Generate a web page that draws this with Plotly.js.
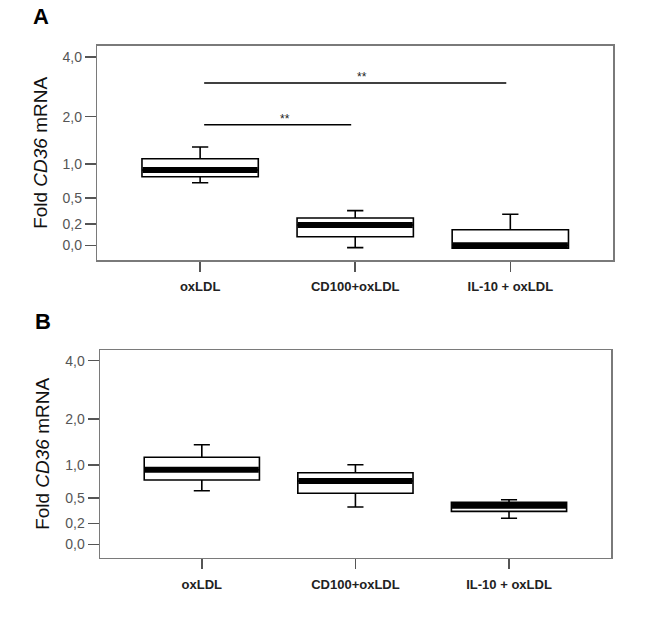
<!DOCTYPE html>
<html>
<head>
<meta charset="utf-8">
<script src="https://cdn.plot.ly/plotly-3.0.1.min.js"></script>
<style>html,body{margin:0;padding:0;background:#fff;}#chart{width:653px;height:632px;}</style>
</head>
<body>
<div id="chart"></div>
<script>
// ---- data ----
const categories = ['oxLDL', 'CD100+oxLDL', 'IL-10 + oxLDL'];
const tickValues = [0, 0.2, 0.5, 1, 2, 4];
const tickLabels = ['0,0', '0,2', '0,5', '1,0', '2,0', '4,0'];

// Panel A
const lowA  = [0.706, -0.020, -0.025];
const q1A   = [0.796,  0.076, -0.025];
const medA  = [0.901,  0.189,  0.000];
const q3A   = [1.094,  0.262,  0.142];
const highA = [1.314,  0.344,  0.303];
const sigPairsA = [[0, 1], [0, 2]];
const sigLevelsA = [1.8, 3.0];
const sigTextA = ['**', '**'];

// Panel B
const lowB  = [0.600, 0.387, 0.256];
const q1B   = [0.757, 0.564, 0.335];
const medB  = [0.923, 0.741, 0.403];
const q3B   = [1.143, 0.873, 0.445];
const highB = [1.393, 1.009, 0.478];

// ---- helpers ----
const f = v => Math.log2(v + 1);   // axis transform (fold scale)
const xs = categories.map((c, i) => i);
const BOXW = 0.75;

function boxTrace(low, q1, med, q3, high, xa, ya) {
  return {
    type: 'box', x: xs,
    lowerfence: low.map(f), q1: q1.map(f), median: med.map(f),
    q3: q3.map(f), upperfence: high.map(f),
    width: BOXW, whiskerwidth: 0.14,
    fillcolor: '#ffffff', line: {color: '#000000', width: 1.6},
    xaxis: xa, yaxis: ya, showlegend: false, hoverinfo: 'skip'
  };
}
function medianTrace(med, xa, ya) {
  const x = [], y = [];
  med.forEach((m, i) => { x.push(i - BOXW / 2 + 0.004, i + BOXW / 2 - 0.004, null); y.push(f(m), f(m), null); });
  return {type: 'scatter', mode: 'lines', x: x, y: y, line: {color: '#000', width: 6},
          xaxis: xa, yaxis: ya, showlegend: false, hoverinfo: 'skip'};
}

const font = 'Arial, "Liberation Sans", sans-serif';
function xAxis(domain, anchor) {
  return {
    domain: domain, anchor: anchor, range: [-0.663, 2.664],
    tickmode: 'array', tickvals: xs, ticktext: categories,
    tickfont: {family: font, size: 13, color: '#222', weight: 'bold'},
    ticks: 'outside', ticklen: 10, tickwidth: 1.5, tickcolor: '#555',
    ticklabelstandoff: 4,
    showline: true, linecolor: '#7a7a7a', linewidth: 1.5, mirror: true,
    showgrid: false, zeroline: false, fixedrange: true
  };
}
function yAxis(domain, anchor, range) {
  return {
    domain: domain, anchor: anchor, range: range,
    tickmode: 'array', tickvals: tickValues.map(f), ticktext: tickLabels,
    tickfont: {family: font, size: 14, color: '#555'},
    ticks: 'outside', ticklen: 11, tickwidth: 1.5, tickcolor: '#555',
    showline: true, linecolor: '#7a7a7a', linewidth: 1.5, mirror: true,
    showgrid: false, zeroline: false, fixedrange: true,
    title: {text: 'Fold <i>CD36</i> mRNA', font: {family: font, size: 19, color: '#111'}, standoff: 10}
  };
}

const traces = [
  boxTrace(lowA, q1A, medA, q3A, highA, 'x', 'y'),
  medianTrace(medA, 'x', 'y'),
  boxTrace(lowB, q1B, medB, q3B, highB, 'x2', 'y2'),
  medianTrace(medB, 'x2', 'y2')
];

const shapes = [], annotations = [];
sigPairsA.forEach((p, k) => {
  shapes.push({type: 'line', xref: 'x', yref: 'y', x0: p[0] + 0.026, x1: p[1] - 0.026,
               y0: f(sigLevelsA[k]), y1: f(sigLevelsA[k]), line: {color: '#000', width: 1.5}});
  annotations.push({xref: 'x', yref: 'y', x: (p[0] + p[1]) / 2, y: f(sigLevelsA[k]),
                    text: sigTextA[k], showarrow: false, yanchor: 'bottom', xshift: 7, yshift: -3,
                    font: {family: font, size: 12, color: '#222'}});
});
annotations.push({xref: 'paper', yref: 'paper', x: 40.5 / 653, y: 1 - 16 / 632, text: '<b>A</b>',
                  showarrow: false, xanchor: 'center', yanchor: 'middle', font: {family: font, size: 22, color: '#000'}});
annotations.push({xref: 'paper', yref: 'paper', x: 42.5 / 653, y: 1 - 321.5 / 632, text: '<b>B</b>',
                  showarrow: false, xanchor: 'center', yanchor: 'middle', font: {family: font, size: 22, color: '#000'}});

const layout = {
  width: 653, height: 632,
  margin: {l: 0, r: 0, t: 0, b: 0},
  paper_bgcolor: '#fff', plot_bgcolor: '#fff',
  showlegend: false,
  xaxis: xAxis([97.3 / 653, 613.3 / 653], 'y'),
  yaxis: yAxis([1 - 260 / 632, 1 - 45.7 / 632], 'x', [-0.181, 2.458]),
  xaxis2: xAxis([100 / 653, 611 / 653], 'y2'),
  yaxis2: yAxis([1 - 557.7 / 632, 1 - 350 / 632], 'x2', [-0.169, 2.456]),
  shapes: shapes, annotations: annotations
};

Plotly.newPlot('chart', traces, layout, {displayModeBar: false, staticPlot: true});
</script>
</body>
</html>
